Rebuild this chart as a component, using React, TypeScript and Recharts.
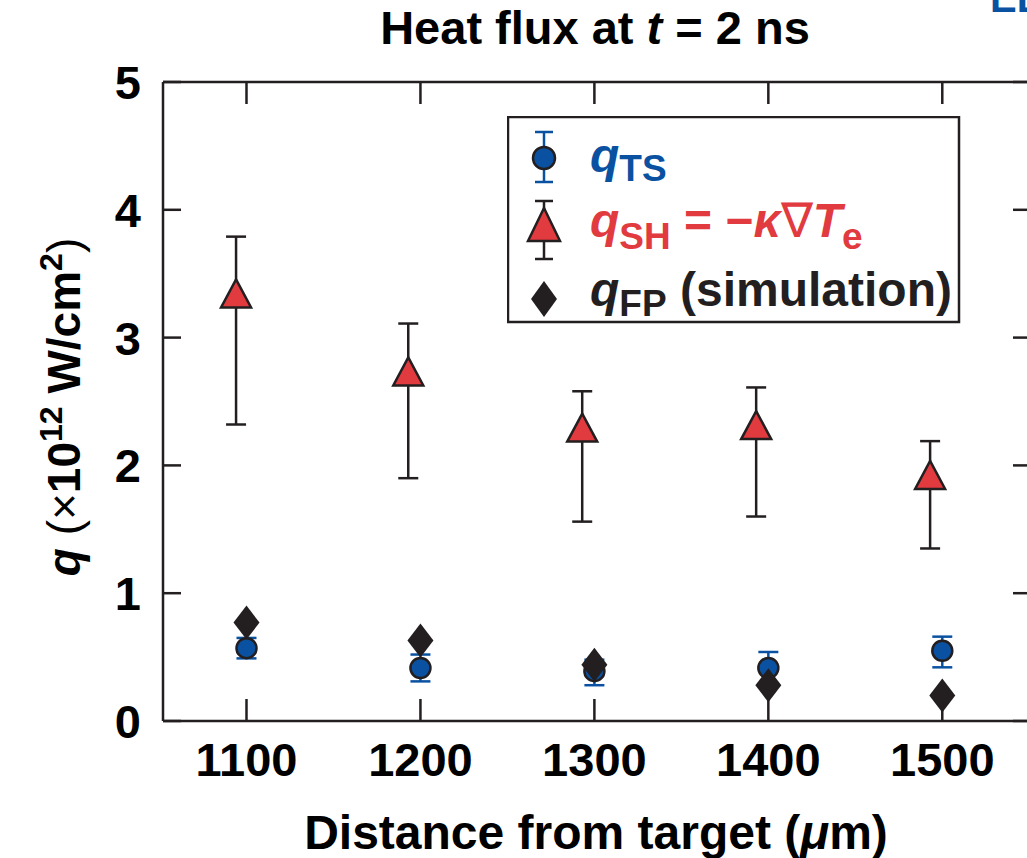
import { ErrorBar, Legend, Scatter, ScatterChart, XAxis, YAxis } from "recharts";

const BLUE = "#0a52a1";
const RED = "#e13a3f";
const INK = "#231f20";
const FONT = "'Liberation Sans', Arial, Helvetica, sans-serif";

// distance from target (µm)
const distances = [1100, 1200, 1300, 1400, 1500];
const shDistances = [1094, 1193, 1293, 1393, 1493];
const xTicks = [1100, 1200, 1300, 1400, 1500];
const yTicks = [0, 1, 2, 3, 4, 5];

// q_TS (Thomson scattering)
const tsValues = [0.57, 0.415, 0.39, 0.415, 0.55];
const tsErrUp = [0.08, 0.105, 0.09, 0.125, 0.11];
const tsErrDown = [0.08, 0.105, 0.11, 0.125, 0.13];

// q_SH = -kappa grad Te
const shValues = [3.33, 2.72, 2.28, 2.3, 1.91];
const shErrUp = [0.46, 0.39, 0.3, 0.31, 0.28];
const shErrDown = [1.01, 0.82, 0.72, 0.7, 0.56];

// q_FP (simulation)
const fpValues = [0.77, 0.63, 0.44, 0.28, 0.2];

const tsData = distances.map((d, i) => ({ x: d, y: tsValues[i], err: [tsErrDown[i], tsErrUp[i]] }));
const shData = shDistances.map((d, i) => ({ x: d, y: shValues[i], err: [shErrDown[i], shErrUp[i]] }));
const fpData = distances.map((d, i) => ({ x: d, y: fpValues[i] }));

const Circle = (p: any) => <circle cx={p.cx} cy={p.cy} r={10} fill={BLUE} stroke={INK} strokeWidth={2.5} />;
const Triangle = (p: any) => (
  <path
    d={`M${p.cx},${p.cy - 16} L${p.cx + 15},${p.cy + 12} L${p.cx - 15},${p.cy + 12} Z`}
    fill={RED}
    stroke={INK}
    strokeWidth={2.5}
  />
);
const Diamond = (p: any) => (
  <path d={`M${p.cx},${p.cy - 17} L${p.cx + 13},${p.cy} L${p.cx},${p.cy + 17} L${p.cx - 13},${p.cy} Z`} fill={INK} />
);

const BottomTick = ({ x, y, payload }: any) => (
  <g>
    <line x1={x} y1={y} x2={x} y2={y - 22} stroke={INK} strokeWidth={2.5} />
    <text x={x} y={y + 55} textAnchor="middle" fontFamily={FONT} fontWeight="bold" fontSize={47} fill="#000">
      {payload.value}
    </text>
  </g>
);
const TopTick = ({ x, y }: any) => <line x1={x} y1={y} x2={x} y2={y + 22} stroke={INK} strokeWidth={2.5} />;
const LeftTick = ({ x, y, payload }: any) => (
  <g>
    <line x1={x} y1={y} x2={x + 18} y2={y} stroke={INK} strokeWidth={2.5} />
    <text x={x - 22} y={y + 17} textAnchor="end" fontFamily={FONT} fontWeight="bold" fontSize={47} fill="#000">
      {payload.value}
    </text>
  </g>
);
const RightTick = ({ x, y }: any) => <line x1={x} y1={y} x2={x - 18} y2={y} stroke={INK} strokeWidth={2.5} />;

const LegendBox = () => (
  <svg width={454} height={208} style={{ display: "block" }}>
    <rect x={1} y={1} width={451} height={205} fill="#fff" stroke={INK} strokeWidth={2.5} />
    <g fontFamily={FONT} fontWeight="bold">
      {/* q_TS */}
      <line x1={37} y1={16} x2={37} y2={66} stroke={BLUE} strokeWidth={2.5} />
      <line x1={28} y1={16} x2={46} y2={16} stroke={BLUE} strokeWidth={2.5} />
      <line x1={28} y1={66} x2={46} y2={66} stroke={BLUE} strokeWidth={2.5} />
      <circle cx={37} cy={42} r={11} fill={BLUE} stroke={INK} strokeWidth={2.5} />
      <text x={83} y={56} fill={BLUE} fontSize={48}>
        <tspan fontStyle="italic">q</tspan>
        <tspan fontSize={37} dy={9}>TS</tspan>
      </text>
      {/* q_SH */}
      <line x1={37} y1={85} x2={37} y2={143} stroke={INK} strokeWidth={2.5} />
      <line x1={28} y1={85} x2={46} y2={85} stroke={INK} strokeWidth={2.5} />
      <line x1={28} y1={143} x2={46} y2={143} stroke={INK} strokeWidth={2.5} />
      <path d="M37,92 L53,125 L21,125 Z" fill={RED} stroke={INK} strokeWidth={2.5} />
      <text x={83} y={121} fill={RED} fontSize={48}>
        <tspan fontStyle="italic">q</tspan>
        <tspan fontSize={37} dy={12}>SH</tspan>
        <tspan dy={-12}> = −</tspan>
        <tspan fontStyle="italic">κ</tspan>
        <tspan fontWeight="normal">∇</tspan>
        <tspan fontStyle="italic">T</tspan>
        <tspan fontSize={37} dy={12}>e</tspan>
      </text>
      {/* q_FP */}
      <path d="M37,165 L50,183 L37,201 L24,183 Z" fill={INK} />
      <text x={83} y={190} fill={INK} fontSize={48}>
        <tspan fontStyle="italic">q</tspan>
        <tspan fontSize={37} dy={10}>FP</tspan>
        <tspan dy={-10}> (simulation)</tspan>
      </text>
    </g>
  </svg>
);

export default function App() {
  return (
    <div style={{ position: "absolute", left: 0, top: 0, width: 1027, height: 858, overflow: "hidden", background: "#fff" }}>
      <ScatterChart width={1040} height={858} margin={{ top: 81, right: 8, bottom: 77, left: 103 }}>
        <XAxis
          xAxisId={0}
          type="number"
          dataKey="x"
          domain={[1052, 1551]}
          ticks={xTicks}
          height={60}
          tickSize={0}
          tickMargin={0}
          tickLine={false}
          axisLine={{ stroke: INK, strokeWidth: 2.5 }}
          tick={<BottomTick />}
          allowDataOverflow
        />
        <XAxis
          xAxisId="top"
          orientation="top"
          type="number"
          dataKey="x"
          domain={[1052, 1551]}
          ticks={xTicks}
          height={1}
          tickSize={0}
          tickMargin={0}
          tickLine={false}
          axisLine={{ stroke: INK, strokeWidth: 2.5 }}
          tick={<TopTick />}
          allowDataOverflow
        />
        <YAxis
          yAxisId={0}
          type="number"
          dataKey="y"
          domain={[0, 5]}
          ticks={yTicks}
          width={60}
          tickSize={0}
          tickMargin={0}
          tickLine={false}
          axisLine={{ stroke: INK, strokeWidth: 2.5 }}
          tick={<LeftTick />}
          allowDataOverflow
        />
        <YAxis
          yAxisId="right"
          orientation="right"
          type="number"
          dataKey="y"
          domain={[0, 5]}
          ticks={yTicks}
          width={1}
          tickSize={0}
          tickMargin={0}
          tickLine={false}
          axisLine={{ stroke: INK, strokeWidth: 2.5 }}
          tick={<RightTick />}
          allowDataOverflow
        />
        <Scatter name="qSH" data={shData} shape={Triangle} isAnimationActive={false}>
          <ErrorBar dataKey="err" direction="y" width={10} stroke={INK} strokeWidth={2.5} />
        </Scatter>
        <Scatter name="qTS" data={tsData} shape={Circle} isAnimationActive={false}>
          <ErrorBar dataKey="err" direction="y" width={10} stroke={BLUE} strokeWidth={2.5} />
        </Scatter>
        <Scatter
          name="qFP"
          data={fpData}
          shape={Diamond}
          xAxisId="top"
          yAxisId="right"
          isAnimationActive={false}
        />
        <Legend
          layout="vertical"
          align="center"
          verticalAlign="middle"
          content={<LegendBox />}
          wrapperStyle={{ position: "absolute", left: 507, top: 116, width: 454, height: 208 }}
        />
      </ScatterChart>
      <svg
        width={1027}
        height={858}
        style={{ position: "absolute", left: 0, top: 0, pointerEvents: "none" }}
        fontFamily={FONT}
        fontWeight="bold"
      >
        <text x={990} y={12} fill={BLUE} fontSize={40}>EL</text>
        <text x={595} y={44} textAnchor="middle" fontSize={47} fill="#000">
          Heat flux at <tspan fontStyle="italic">t</tspan> = 2 ns
        </text>
        <text x={596} y={849} textAnchor="middle" fontSize={48} fill="#000">
          Distance from target (<tspan fontStyle="italic">μ</tspan>m)
        </text>
        <text transform="translate(80,407) rotate(-90)" textAnchor="middle" fontSize={46} fill="#000">
          <tspan fontStyle="italic">q</tspan> <tspan fontWeight="normal">(×</tspan>10
          <tspan fontSize={32} dy={-18}>12</tspan>
          <tspan dy={18}> W/cm</tspan>
          <tspan fontSize={32} dy={-18}>2</tspan>
          <tspan dy={18} fontWeight="normal">)</tspan>
        </text>
      </svg>
    </div>
  );
}
